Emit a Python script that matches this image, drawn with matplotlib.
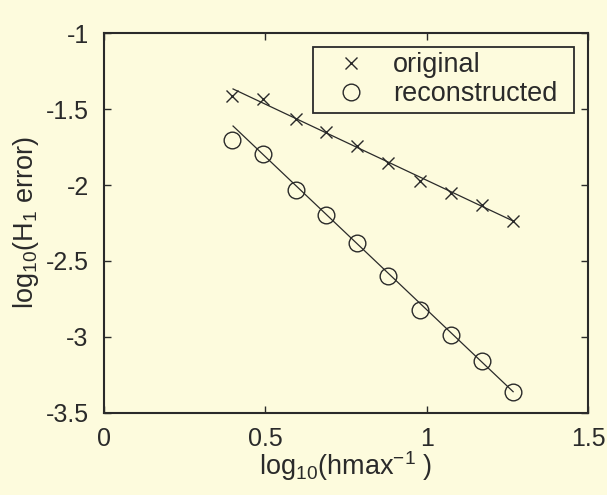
import numpy as np
import matplotlib
matplotlib.use('Agg')
import matplotlib.pyplot as plt

# values
log_hinv = [0.396, 0.492, 0.594, 0.687, 0.783, 0.881, 0.979, 1.075, 1.170, 1.268]
err_orig = [-1.412, -1.436, -1.568, -1.653, -1.741, -1.857, -1.974, -2.051, -2.134, -2.237]
err_recon = [-1.704, -1.794, -2.031, -2.199, -2.380, -2.599, -2.822, -2.987, -3.160, -3.360]

# fitted lines (end points)
fit_x = [0.400, 1.268]
fit_orig = [-1.368, -2.237]
fit_recon = [-1.612, -3.360]

bg = '#fdfbdd'
ink = '#2a2a2a'

plt.rcParams['font.family'] = ['Liberation Sans', 'DejaVu Sans']
plt.rcParams['mathtext.default'] = 'regular'
plt.rcParams['font.size'] = 18

fig = plt.figure(figsize=(6.07, 4.95), dpi=100, facecolor=bg)
ax = fig.add_axes([0.1713, 0.1657, 0.7974, 0.7676], facecolor=bg)

ax.plot(log_hinv, err_orig, 'x', color=ink, ms=8.5, mew=1.0, label='original')
ax.plot(log_hinv, err_recon, 'o', color=ink, mfc='none', ms=12, mew=1.0, label='reconstructed')
ax.plot(fit_x, fit_orig, '-', color=ink, lw=0.9)
ax.plot(fit_x, fit_recon, '-', color=ink, lw=0.9)

ax.set_xlim(0, 1.5)
ax.set_ylim(-3.5, -1)
ax.set_xticks([0, 0.5, 1, 1.5])
ax.set_xticklabels(['0', '0.5', '1', '1.5'])
ax.set_yticks([-3.5, -3, -2.5, -2, -1.5, -1])
ax.set_yticklabels(['-3.5', '-3', '-2.5', '-2', '-1.5', '-1'])
ax.tick_params(direction='in', top=True, right=True, length=5, width=1, colors=ink, labelcolor=ink)
ax.tick_params(axis='x', pad=10)
ax.tick_params(axis='y', pad=11)
for s in ax.spines.values():
    s.set_color(ink)
    s.set_linewidth(1.5)

ax.set_xlabel('log$_{10}$(hmax$^{-1}$ )', color=ink, fontsize=19.5, labelpad=-1)
ax.set_ylabel('log$_{10}$(H$_1$ error)', color=ink, fontsize=19.5, labelpad=3)

leg = ax.legend(loc='upper left', bbox_to_anchor=(0.432, 0.964 - 0.186, 0.539, 0.186),
                mode='expand', borderaxespad=0, fontsize=19.5,
                fancybox=False, framealpha=1, facecolor=bg, edgecolor=ink,
                handlelength=2.4, handletextpad=0.35, borderpad=0.2, labelspacing=0.12)
leg.get_frame().set_linewidth(1.3)
for t in leg.get_texts():
    t.set_color(ink)

fig.savefig('out.png', dpi=100, facecolor=bg)
